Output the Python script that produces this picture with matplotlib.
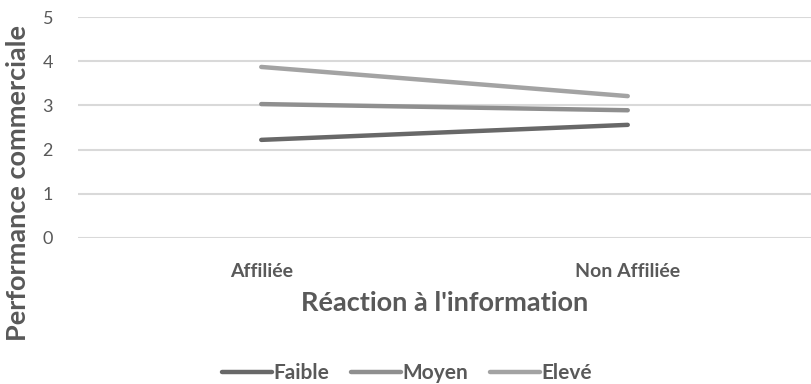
import matplotlib.pyplot as plt

categories = ["Affiliée", "Non Affiliée"]
series_names = ["Faible", "Moyen", "Elevé"]
faible = [2.22, 2.56]
moyen = [3.03, 2.89]
eleve = [3.87, 3.21]
y_ticks = [0, 1, 2, 3, 4, 5]

colors = ["#686868", "#8f8f8f", "#a3a3a3"]
text_color = "#595959"

plt.rcParams['font.family'] = ['Lato', 'DejaVu Sans']

fig = plt.figure(figsize=(8.11, 3.84), dpi=100)
ax = fig.add_axes([78 / 811, 1 - 238 / 384, 733 / 811, 221 / 384])

x = [0.5, 1.5]
for vals, name, c in zip([faible, moyen, eleve], series_names, colors):
    ax.plot(x, vals, color=c, lw=3.2, solid_capstyle='round', label=name)

ax.set_xlim(0, 2)
ax.set_ylim(0, 5)
ax.set_yticks(y_ticks)
ax.set_yticklabels([str(t) for t in y_ticks], fontsize=13, color=text_color)
ax.set_xticks(x)
ax.set_xticklabels(categories, fontsize=14, fontweight='bold', color=text_color)
ax.tick_params(axis='both', length=0)
ax.tick_params(axis='x', pad=18)
ax.tick_params(axis='y', pad=18)
ax.grid(axis='y', color='#d9d9d9', lw=1.5)
ax.set_axisbelow(True)
for s in ax.spines.values():
    s.set_visible(False)

ax.set_xlabel("Réaction à l'information", fontsize=19.5, fontweight='bold',
              color=text_color, labelpad=8)
fig.text(0.022, 1 - 183 / 384, "Performance commerciale", rotation=90,
         fontsize=19.5, fontweight='bold', color=text_color,
         ha='center', va='center')

fig.legend(loc='center', bbox_to_anchor=(407 / 811, 1 - 373 / 384), ncol=3,
           frameon=False, prop={'weight': 'bold', 'size': 15},
           handlelength=2.4, handletextpad=0.05, columnspacing=1.05,
           labelcolor=text_color)

fig.savefig("out.png", dpi=100)
